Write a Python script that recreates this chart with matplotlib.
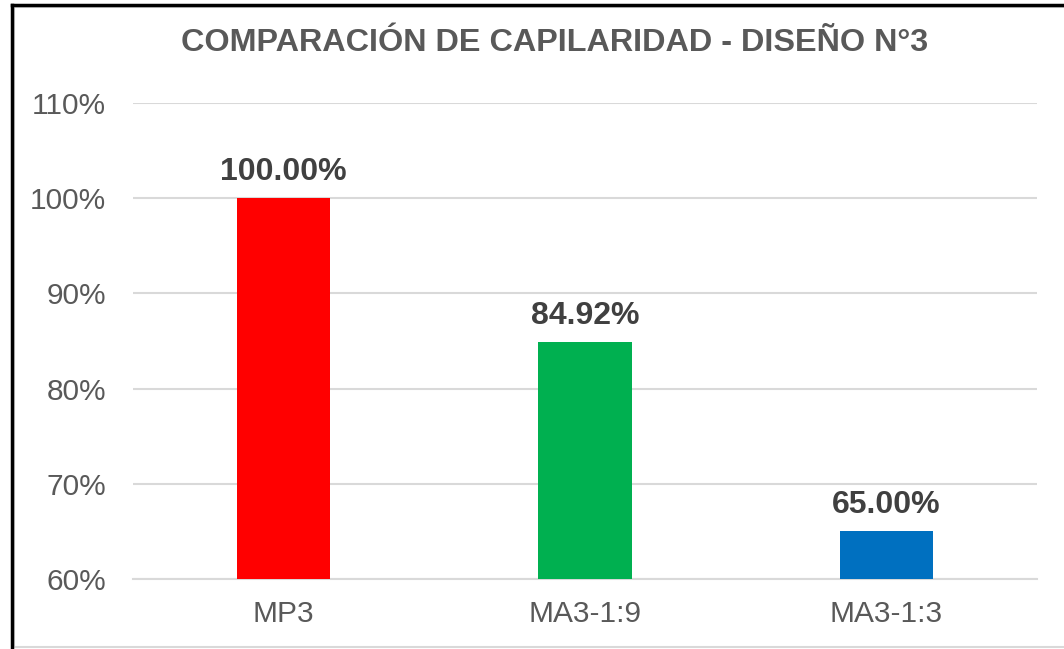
import matplotlib.pyplot as plt
from matplotlib.patches import Rectangle
from matplotlib.ticker import FuncFormatter

plt.rcParams['font.family'] = ['Liberation Sans', 'DejaVu Sans']

# Capillarity comparison, design No. 3 (percent relative to MP3)
categories = ['MP3', 'MA3-1:9', 'MA3-1:3']
values = [100.00, 84.92, 65.00]
colors = ['#FF0000', '#00B050', '#0070C0']

fig = plt.figure(figsize=(10.64, 6.49), dpi=100)
ax = fig.add_axes([0.125, 0.1079, 0.8496, 0.7334])

x = range(len(categories))
ax.bar(x, values, width=0.31, color=colors, zorder=3)

for xi, v in zip(x, values):
    ax.annotate(f'{v:.2f}%', xy=(xi, v), xytext=(0, 8), textcoords='offset points',
                ha='center', va='bottom', fontsize=23, fontweight='bold',
                color='#404040', zorder=4)

ax.set_xlim(-0.5, len(categories) - 0.5)
ax.set_ylim(60, 110)
ax.set_yticks(range(60, 111, 10))
ax.yaxis.set_major_formatter(FuncFormatter(lambda v, _: f'{v:.0f}%'))
ax.set_xticks(list(x))
ax.set_xticklabels(categories)

ax.grid(axis='y', color='#D9D9D9', linewidth=1.5, zorder=0)
for side in ['top', 'right', 'left']:
    ax.spines[side].set_visible(False)
ax.spines['bottom'].set_color('#D9D9D9')
ax.spines['bottom'].set_linewidth(1.5)
ax.tick_params(axis='both', length=0, labelsize=21.5, colors='#595959')
ax.tick_params(axis='y', pad=19.5)
ax.tick_params(axis='x', pad=15)

fig.text(555 / 1064, 1 - 43 / 649, 'COMPARACIÓN DE CAPILARIDAD - DISEÑO N°3',
         ha='center', va='center', fontsize=23.3, fontweight='bold', color='#595959')

# outer frame: light chart border plus dark edge on the left and top
fig.patches.append(Rectangle((14 / 1064, 2 / 649), 1.0, 1 - 9 / 649,
                             transform=fig.transFigure, fill=False,
                             edgecolor='#D9D9D9', linewidth=1.5))
fig.add_artist(plt.Line2D([11.5 / 1064, 11.5 / 1064], [0, 1 - 4.5 / 649],
                          transform=fig.transFigure, color='black', linewidth=2.5))
fig.add_artist(plt.Line2D([11.5 / 1064, 1], [1 - 4.5 / 649, 1 - 4.5 / 649],
                          transform=fig.transFigure, color='black', linewidth=2.5))

fig.savefig('out.png', dpi=100)
